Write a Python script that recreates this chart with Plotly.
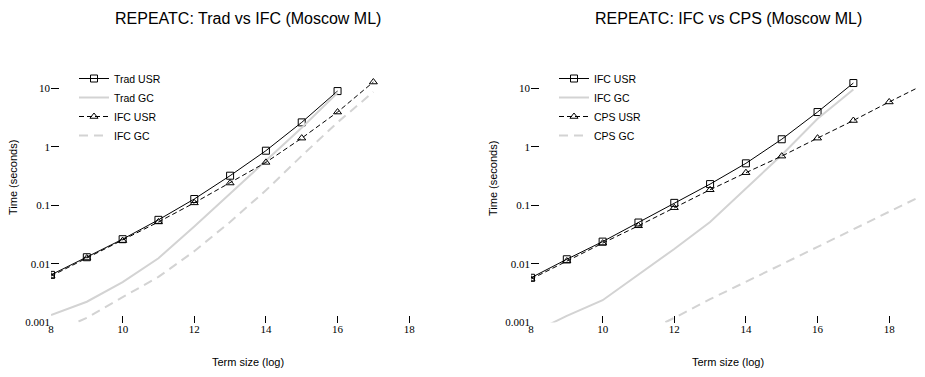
import plotly.graph_objects as go

# ---- data ----
x_trad = [8, 9, 10, 11, 12, 13, 14, 15, 16]
trad_usr = [0.0065, 0.013, 0.0264, 0.0565, 0.128, 0.32, 0.855, 2.6, 8.9]
trad_gc = [0.00134, 0.00226, 0.0049, 0.0125, 0.0435, 0.16, 0.58, 2.1, 8.3]

x_ifc = [8, 9, 10, 11, 12, 13, 14, 15, 16, 17]
ifc_usr_left = [0.0062, 0.0126, 0.025, 0.052, 0.11, 0.24, 0.54, 1.4, 3.9, 12.7]
ifc_gc_left = [0.00065, 0.0012, 0.0027, 0.006, 0.0165, 0.052, 0.18, 0.7, 2.6, 8.6]

ifc_usr_right = [0.0058, 0.012, 0.024, 0.0508, 0.11, 0.23, 0.52, 1.34, 3.9, 12.2]
ifc_gc_right = [0.00065, 0.0013, 0.0024, 0.0065, 0.018, 0.052, 0.19, 0.72, 3.0, 9.5]

x_cps = [8, 9, 10, 11, 12, 13, 14, 15, 16, 17, 18, 19]
cps_usr = [0.0055, 0.0112, 0.0226, 0.0447, 0.091, 0.184, 0.36, 0.69, 1.4, 2.8, 5.8, 11.7]
x_cps_gc = [11, 12, 13, 14, 15, 16, 17, 18, 19]
cps_gc = [0.0006, 0.0012, 0.0025, 0.0049, 0.0098, 0.0195, 0.039, 0.078, 0.155]

x_tickvals = [8, 10, 12, 14, 16, 18]
x_ticktext = ["8", "10", "12", "14", "16", "18"]
y_tickvals = [0.001, 0.01, 0.1, 1, 10]
y_ticktext = ["0.001", "0.01", "0.1", "1", "10"]

titles = ["REPEATC: Trad vs IFC (Moscow ML)", "REPEATC: IFC vs CPS (Moscow ML)"]

# ---- styles / layout ----
GRAY = "#d3d3d3"
SANS = "Liberation Sans, Arial, sans-serif"
SERIF = "Liberation Serif, Times New Roman, serif"
OFF = 8                 # page body margin
W, H = 925 - OFF, 377 - OFF

def fx(px):
    return (px - OFF) / W

def fy(py):
    return 1 - (py - OFF) / H

fig = go.Figure()

def usr(x, y, name, sym, dash, xa, ya, leg):
    return go.Scatter(x=x, y=y, name=name, mode="lines+markers",
                      line=dict(color="black", width=1, dash=dash),
                      marker=dict(symbol=sym, size=7, color="black",
                                  line=dict(color="black", width=1)),
                      xaxis=xa, yaxis=ya, legend=leg)

def gc(x, y, name, dash, xa, ya, leg):
    return go.Scatter(x=x, y=y, name=name, mode="lines",
                      line=dict(color=GRAY, width=2, dash=dash),
                      xaxis=xa, yaxis=ya, legend=leg)

# left panel
fig.add_trace(usr(x_trad, trad_usr, "Trad USR", "square-open", "solid", "x", "y", "legend"))
fig.add_trace(gc(x_trad, trad_gc, "Trad GC", "solid", "x", "y", "legend"))
fig.add_trace(usr(x_ifc, ifc_usr_left, "IFC USR", "triangle-up-open", "5px,3px", "x", "y", "legend"))
fig.add_trace(gc(x_ifc, ifc_gc_left, "IFC GC", "9px,6px", "x", "y", "legend"))

# right panel
fig.add_trace(usr(x_ifc, ifc_usr_right, "IFC USR", "square-open", "solid", "x2", "y2", "legend2"))
fig.add_trace(gc(x_ifc, ifc_gc_right, "IFC GC", "solid", "x2", "y2", "legend2"))
fig.add_trace(usr(x_cps, cps_usr, "CPS USR", "triangle-up-open", "5px,3px", "x2", "y2", "legend2"))
fig.add_trace(gc(x_cps_gc, cps_gc, "CPS GC", "9px,6px", "x2", "y2", "legend2"))

ydom = [fy(322.5), fy(29.5)]
xdom1 = [fx(51), fx(445)]
xdom2 = [fx(531), 1.0]

xcommon = dict(range=[8, 19], tickvals=x_tickvals, ticktext=x_ticktext,
               ticks="inside", ticklen=7, tickwidth=1, tickcolor="black",
               showline=False, showgrid=False, zeroline=False, automargin=False,
               ticklabelstandoff=-2,
               tickfont=dict(family=SERIF, size=11, color="black"))
ycommon = dict(type="log", range=[-3, 2], tickvals=y_tickvals, ticktext=y_ticktext,
               ticks="inside", ticklen=8, tickwidth=1, tickcolor="black",
               showline=False, showgrid=False, zeroline=False, automargin=False,
               tickfont=dict(family=SERIF, size=11, color="black"), domain=ydom)

legcommon = dict(font=dict(family=SANS, size=10.5, color="black"),
                 bgcolor="rgba(0,0,0,0)", xanchor="left", yanchor="top",
                 tracegroupgap=0, itemwidth=30)

annotations = []
for dom, t in zip([xdom1, xdom2], titles):
    cx = (dom[0] + dom[1]) / 2
    annotations.append(dict(text=t, x=cx, y=fy(8), xref="paper", yref="paper",
                            xanchor="center", yanchor="top", showarrow=False,
                            font=dict(family=SANS, size=16, color="black")))
    annotations.append(dict(text="Term size (log)", x=cx, y=fy(362), xref="paper",
                            yref="paper", xanchor="center", yanchor="middle",
                            showarrow=False, font=dict(family=SANS, size=11, color="black")))
for x0 in [13, 493]:
    annotations.append(dict(text="Time (seconds)", x=fx(x0), y=fy(178), xref="paper",
                            yref="paper", xanchor="center", yanchor="middle", textangle=-90,
                            showarrow=False, font=dict(family=SANS, size=11, color="black")))

fig.update_layout(
    width=W, height=H, margin=dict(l=0, r=0, t=0, b=0, autoexpand=False),
    paper_bgcolor="white", plot_bgcolor="white",
    xaxis=dict(domain=xdom1, anchor="y", **xcommon),
    yaxis=dict(anchor="x", **ycommon),
    xaxis2=dict(domain=xdom2, anchor="y2", **xcommon),
    yaxis2=dict(anchor="x2", **ycommon),
    legend=dict(x=fx(74), y=fy(64), **legcommon),
    legend2=dict(x=fx(554), y=fy(64), **legcommon),
    showlegend=True,
    annotations=annotations,
)

fig.write_html("out.html")
